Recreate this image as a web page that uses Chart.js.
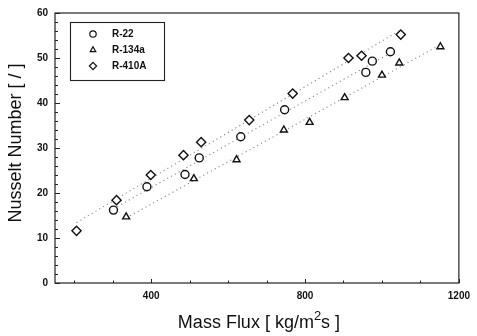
<!DOCTYPE html>
<html><head><meta charset="utf-8">
<script src="https://cdn.jsdelivr.net/npm/chart.js@4"></script>
<style>html,body{margin:0;padding:0;background:#fff}</style>
</head><body>
<canvas id="c" width="477" height="336"></canvas>
<script>
// ---- data ----
const seriesNames = ['R-22', 'R-134a', 'R-410A'];
const seriesStyles = ['circle', 'triangle', 'rectRot'];
const r22Flux    = [302, 389, 488, 525, 633, 747, 958, 975, 1022];
const r22Nu      = [16.2, 21.4, 24.1, 27.8, 32.5, 38.5, 46.8, 49.3, 51.4];
const r134aFlux  = [335, 511, 622, 745, 812, 903, 1000, 1045, 1152];
const r134aNu    = [14.7, 23.2, 27.4, 34.0, 35.7, 41.2, 46.2, 48.9, 52.5];
const r410aFlux  = [206, 310, 399, 484, 530, 655, 768, 913, 947, 1049];
const r410aNu    = [11.6, 18.4, 24.0, 28.4, 31.3, 36.2, 42.1, 50.0, 50.5, 55.2];
const xTickLabels = [400, 800, 1200];
const yTickLabels = [0, 10, 20, 30, 40, 50, 60];
const xMinorStep = 100;
const yMinorStep = 2;
const xTitle = ['Mass Flux [ kg/m', '2', 's ]'];
const yTitle = 'Nusselt Number [ / ]';

const FONT = '"Liberation Sans", Arial, sans-serif';

function pts(xs, ys) { return xs.map((x, i) => ({ x: x, y: ys[i] })); }
function fitLine(xs, ys) {
  const n = xs.length;
  const mx = xs.reduce((a, b) => a + b, 0) / n;
  const my = ys.reduce((a, b) => a + b, 0) / n;
  let sxy = 0, sxx = 0;
  for (let i = 0; i < n; i++) { sxy += (xs[i] - mx) * (ys[i] - my); sxx += (xs[i] - mx) * (xs[i] - mx); }
  const b = sxy / sxx, a = my - b * mx;
  const x0 = Math.min(...xs), x1 = Math.max(...xs);
  return [{ x: x0, y: a + b * x0 }, { x: x1, y: a + b * x1 }];
}

const allX = [r22Flux, r134aFlux, r410aFlux];
const allY = [r22Nu, r134aNu, r410aNu];

const datasets = [];
for (let s = 0; s < 3; s++) {
  datasets.push({
    label: seriesNames[s] + ' fit',
    data: fitLine(allX[s], allY[s]),
    showLine: true, pointRadius: 0, borderColor: '#8a8a8a', borderWidth: 1.1,
    borderDash: [1.2, 3.2], fill: false, order: 2
  });
}
for (let s = 0; s < 3; s++) {
  datasets.push({
    label: seriesNames[s],
    data: pts(allX[s], allY[s]),
    showLine: false,
    pointStyle: seriesStyles[s],
    pointRadius: s === 2 ? 4.6 : 4.0,
    pointBorderColor: '#111', pointBackgroundColor: '#fff',
    pointBorderWidth: 1.4, order: 1
  });
}

const decor = {
  id: 'decor',
  afterDraw(chart) {
    const ctx = chart.ctx, a = chart.chartArea;
    const xs = chart.scales.x, ys = chart.scales.y;
    ctx.save();
    // frame
    ctx.strokeStyle = '#222'; ctx.lineWidth = 1.2;
    ctx.strokeRect(a.left, a.top, a.right - a.left, a.bottom - a.top);
    // ticks (inward)
    ctx.lineWidth = 1;
    ctx.beginPath();
    for (let v = ys.min; v <= ys.max + 1e-9; v += yMinorStep) {
      const y = Math.round(ys.getPixelForValue(v)) + 0.5;
      const len = yTickLabels.includes(v) ? 5 : 3;
      ctx.moveTo(a.left, y); ctx.lineTo(a.left + len, y);
    }
    for (let v = Math.ceil(xs.min / xMinorStep) * xMinorStep; v <= xs.max + 1e-9; v += xMinorStep) {
      const x = Math.round(xs.getPixelForValue(v)) + 0.5;
      const len = xTickLabels.includes(v) ? 4 : 2.5;
      ctx.moveTo(x, a.bottom); ctx.lineTo(x, a.bottom - len);
    }
    ctx.stroke();

    // legend box
    ctx.lineWidth = 1.1; ctx.strokeStyle = '#222';
    ctx.strokeRect(70.5, 22.5, 94, 58);
    ctx.font = 'bold 10px ' + FONT;
    ctx.textBaseline = 'middle'; ctx.textAlign = 'left';
    const rowsY = [34, 50, 66];
    for (let s = 0; s < 3; s++) {
      const ds = chart.data.datasets[3 + s];
      ctx.lineWidth = 1.2; ctx.strokeStyle = '#111'; ctx.fillStyle = '#fff';
      Chart.helpers.drawPoint(ctx, { pointStyle: ds.pointStyle, radius: s === 2 ? 3.6 : 3.2, borderWidth: 1.2, rotation: 0 }, 93, rowsY[s]);
      ctx.fillStyle = '#111';
      ctx.fillText(ds.label, 112, rowsY[s]);
    }

    // y title
    ctx.fillStyle = '#111';
    ctx.font = '18px ' + FONT;
    ctx.save();
    ctx.translate(16, 143);
    ctx.rotate(-Math.PI / 2);
    ctx.textAlign = 'center'; ctx.textBaseline = 'middle';
    ctx.fillText(yTitle, 0, 0);
    ctx.restore();

    // x title with superscript
    ctx.textBaseline = 'alphabetic'; ctx.textAlign = 'left';
    const f1 = '18px ' + FONT, f2 = '13px ' + FONT;
    ctx.font = f1; const w1 = ctx.measureText(xTitle[0]).width;
    ctx.font = f2; const w2 = ctx.measureText(xTitle[1]).width;
    ctx.font = f1; const w3 = ctx.measureText(xTitle[2]).width;
    let x0 = 259 - (w1 + w2 + w3) / 2;
    const base = 328;
    ctx.font = f1; ctx.fillText(xTitle[0], x0, base);
    ctx.font = f2; ctx.fillText(xTitle[1], x0 + w1, base - 8);
    ctx.font = f1; ctx.fillText(xTitle[2], x0 + w1 + w2, base);
    ctx.restore();
  }
};

new Chart(document.getElementById('c'), {
  type: 'scatter',
  data: { datasets: datasets },
  options: {
    responsive: false, animation: false, devicePixelRatio: 1,
    layout: { padding: { left: 0, right: 14, top: 10, bottom: 0 } },
    plugins: { legend: { display: false }, tooltip: { enabled: false } },
    scales: {
      x: {
        type: 'linear', min: 150, max: 1200,
        afterBuildTicks: (sc) => { sc.ticks = xTickLabels.map(v => ({ value: v })); },
        afterFit: (sc) => { sc.height = 53; },
        grid: { display: false, drawTicks: false },
        border: { display: false },
        ticks: { padding: 7, color: '#111', font: { family: FONT, size: 10, weight: 'bold' }, maxRotation: 0, callback: (v) => String(v) }
      },
      y: {
        type: 'linear', min: 0, max: 60,
        afterBuildTicks: (sc) => { sc.ticks = yTickLabels.map(v => ({ value: v })); },
        afterFit: (sc) => { sc.width = 55; },
        grid: { display: false, drawTicks: false },
        border: { display: false },
        ticks: { padding: 7, color: '#111', font: { family: FONT, size: 10, weight: 'bold' }, callback: (v) => String(v) }
      }
    }
  },
  plugins: [decor]
});
</script>
</body></html>
